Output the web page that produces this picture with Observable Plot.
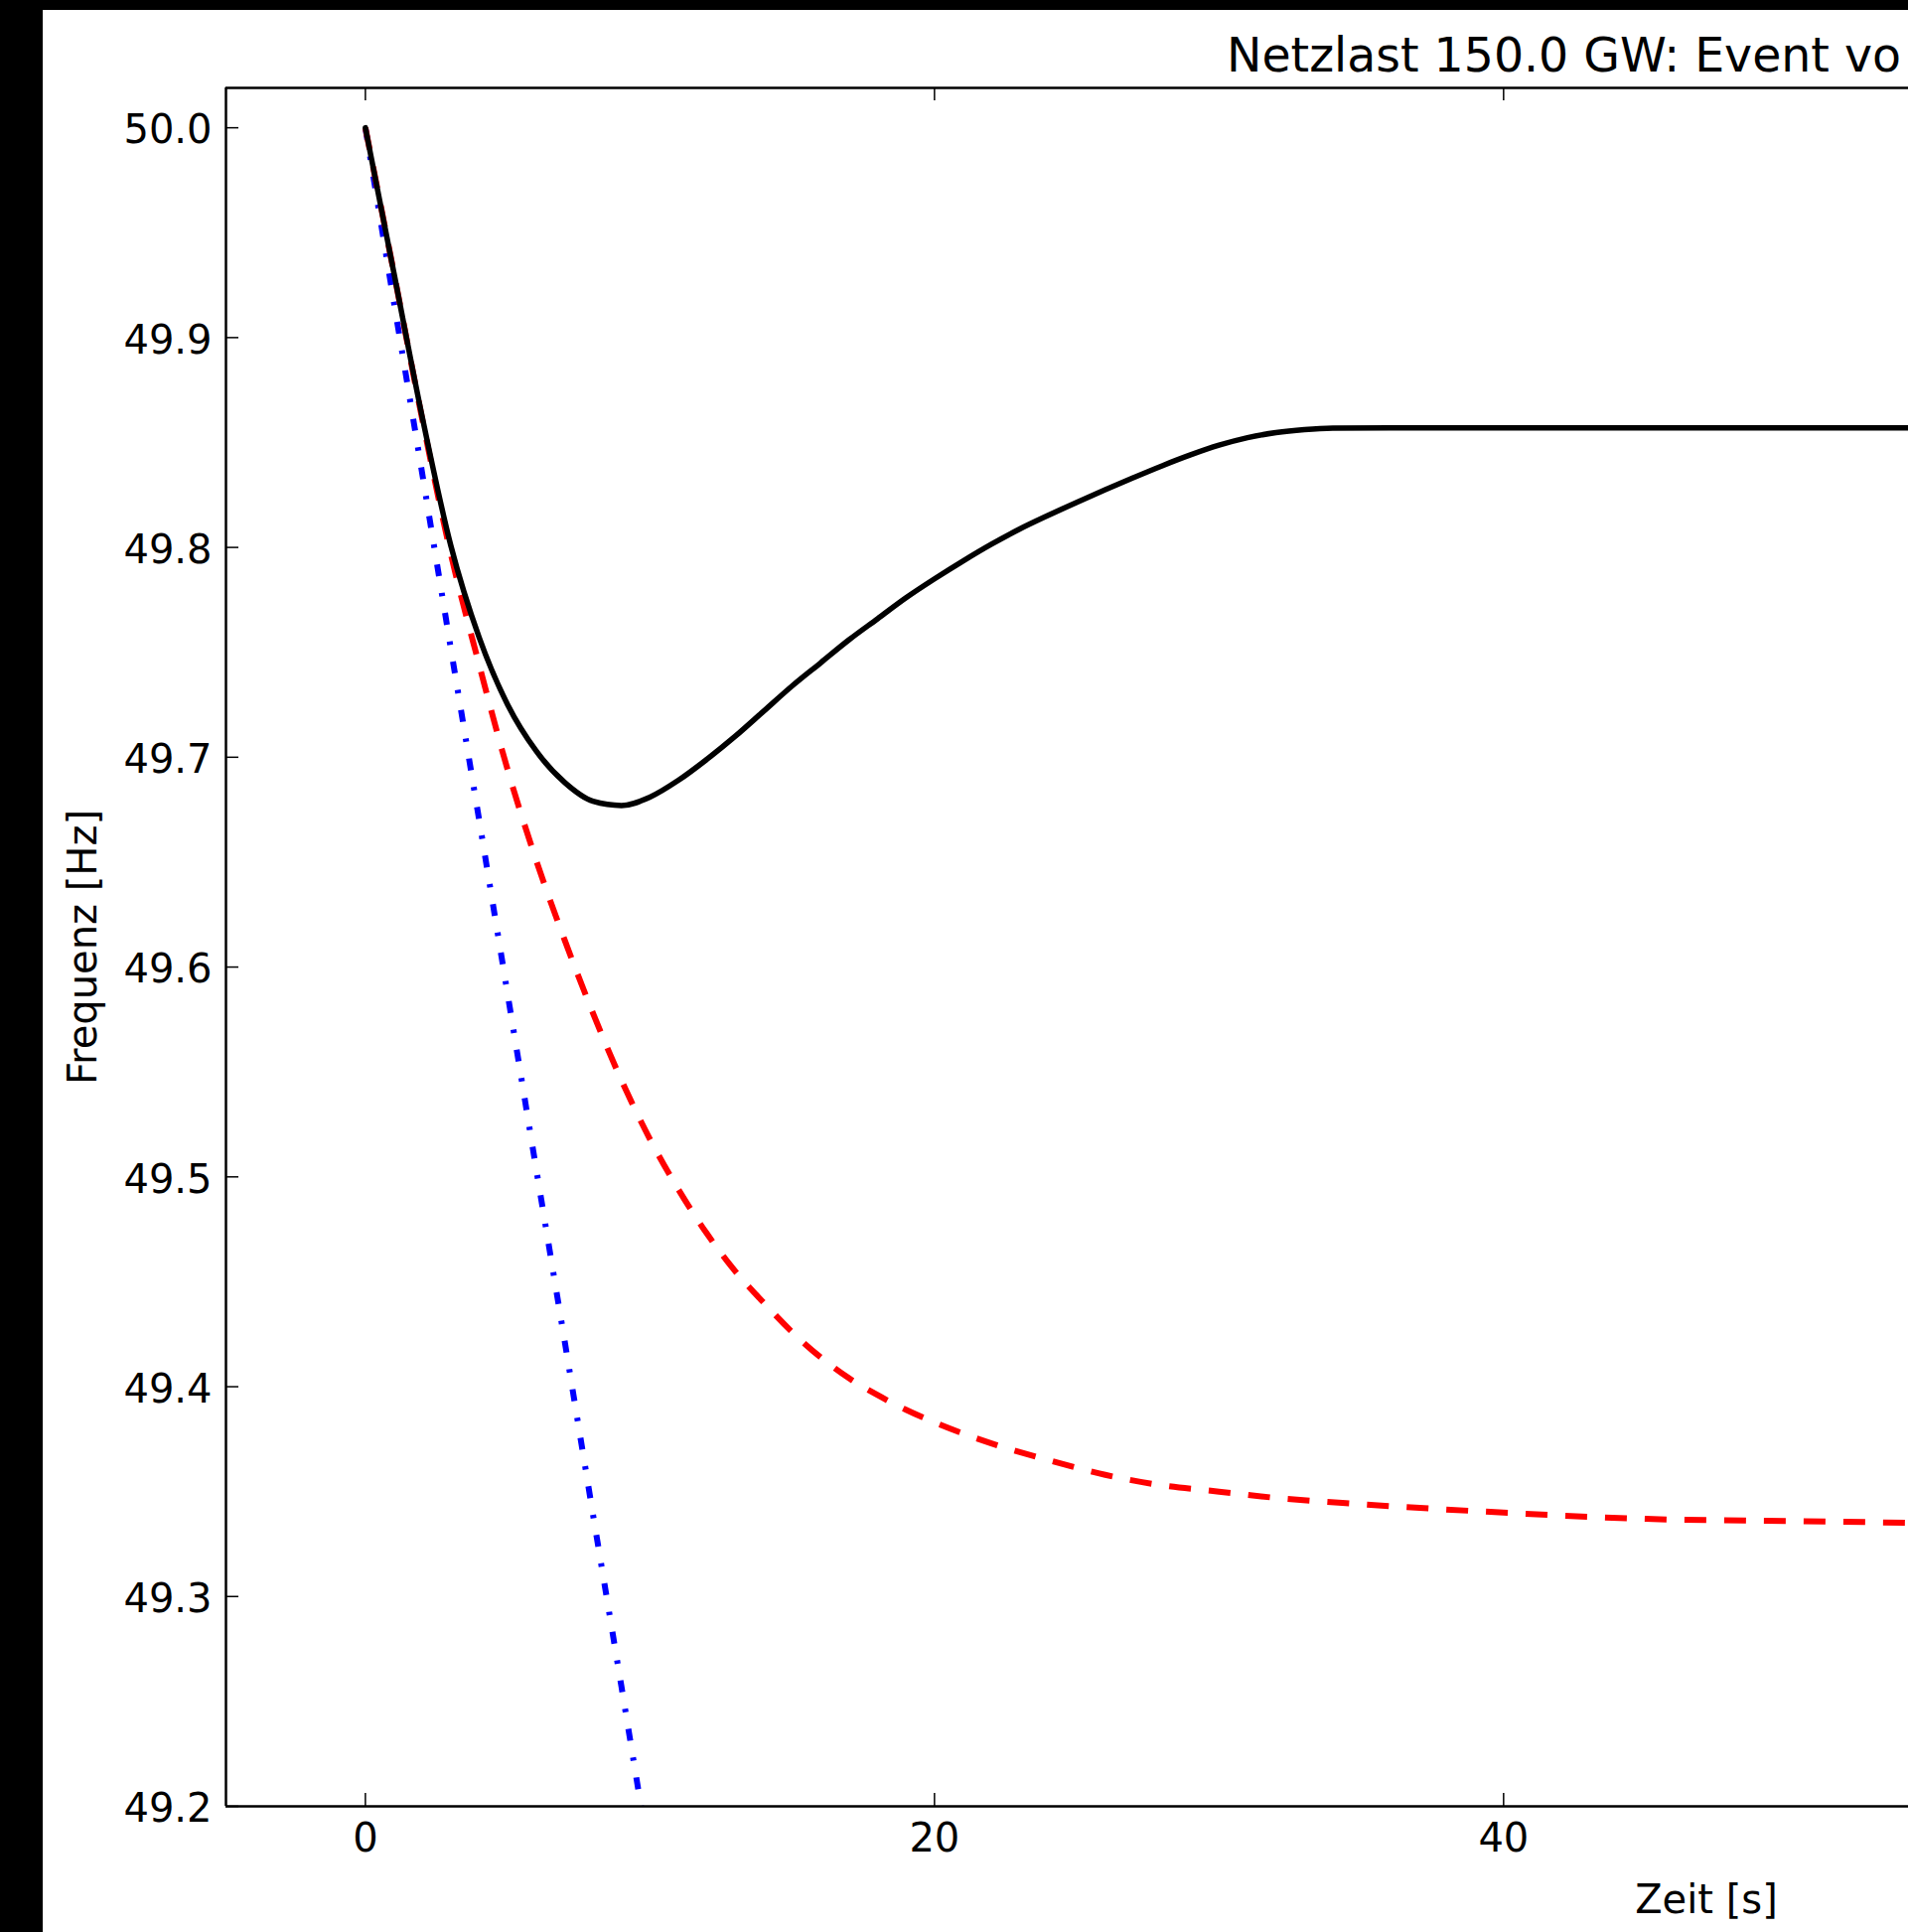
<!DOCTYPE html>
<html>
<head>
<meta charset="utf-8">
<script src="https://cdn.jsdelivr.net/npm/d3@7"></script>
<script src="https://cdn.jsdelivr.net/npm/@observablehq/plot@0.6"></script>
<style>
html, body { margin: 0; padding: 0; background: #000; overflow: hidden; width: 1921px; height: 1945px; }
#page { position: absolute; left: 43px; top: 10px; width: 1878px; height: 1935px; background: #fff; overflow: hidden; font-family: "DejaVu Sans", sans-serif; color: #000; }
#title { position: relative; height: 60px; }
#title span { position: absolute; left: 1192px; top: 22px; font-size: 47.4px; line-height: 48px; white-space: nowrap; }
#chart svg { display: block; }
#xlabel { position: relative; height: 55px; }
#xlabel span { position: absolute; left: 1475px; width: 400px; top: 12px; text-align: center; font-size: 40px; line-height: 40px; white-space: nowrap; }
</style>
</head>
<body>
<div id="page">
  <div id="title"><span id="titleText"></span></div>
  <div id="chart"></div>
  <div id="xlabel"><span id="xlabelText"></span></div>
</div>
<script>
// ---- texts ----
const titleText = "Netzlast 150.0 GW: Event vo";
const xLabel = "Zeit [s]";
const yLabel = "Frequenz [Hz]";

// ---- tick values ----
const xTicks = [0, 20, 40];
const yTicks = [49.2, 49.3, 49.4, 49.5, 49.6, 49.7, 49.8, 49.9, 50.0];

// ---- axis limits ----
const xDomain = [-4.9, 54.23];
const yDomain = [49.2, 50.019];

// ---- series: black solid ----
const timeBlack = [0,1,2,3,4,5,6,7,8,9,10,11,12,13,14,15,16,17,18,19,20,21,22,23,24,25,26,27,28,29,30,31,32,33,34,36,40,45,50,55];
const freqBlack = [50.000,49.931,49.862,49.801,49.757,49.725,49.703,49.688,49.679,49.677,49.681,49.689,49.699,49.710,49.722,49.734,49.745,49.756,49.766,49.776,49.785,49.7935,49.8015,49.8088,49.8153,49.8215,49.8275,49.8333,49.8389,49.8441,49.8487,49.8523,49.8547,49.8561,49.8568,49.857,49.857,49.857,49.857,49.857];

// ---- series: red dashed ----
const timeRed = [0,1,2,3,4,5,6,7,8,9,10,11,12,13,14,15,16,17,18,19,20,22,24,26,28,30,32,35,40,45,50,55];
const freqRed = [50.000,49.931,49.861,49.797,49.744,49.694,49.651,49.613,49.578,49.546,49.518,49.494,49.473,49.455,49.440,49.426,49.414,49.404,49.396,49.389,49.383,49.373,49.365,49.358,49.353,49.350,49.347,49.344,49.340,49.337,49.336,49.335];

// ---- series: blue dash-dot ----
const timeBlue = [0,1,2,3,4,5,6,7,8,9,10];
const freqBlue = [50.000,49.917,49.835,49.752,49.670,49.587,49.504,49.422,49.339,49.257,49.174];

const toRows = (ts, fs) => ts.map((t, i) => ({t, f: fs[i]}));
const blackRows = toRows(timeBlack, freqBlack);
const redRows = toRows(timeRed, freqRed);
const blueRows = toRows(timeBlue, freqBlue);

document.getElementById("titleText").textContent = titleText;
document.getElementById("xlabelText").textContent = xLabel;

const frameW = 1878 - 184;
const frameH = 1810 - 18 - 62;
const tickLen = 13;

const chart = Plot.plot({
  width: 1878,
  height: 1810,
  marginLeft: 184,
  marginRight: 0,
  marginTop: 18,
  marginBottom: 62,
  x: {domain: xDomain},
  y: {domain: yDomain},
  style: {fontFamily: "'DejaVu Sans', sans-serif", fontSize: "40px", color: "#000", background: "#fff"},
  marks: [
    Plot.line(blueRows, {x: "t", y: "f", stroke: "#0000ff", strokeWidth: 6, strokeDasharray: "12,17,3.5,17", strokeLinecap: "butt", clip: true}),
    Plot.line(redRows, {x: "t", y: "f", stroke: "#ff0000", strokeWidth: 6, strokeDasharray: "22,18", strokeLinecap: "butt", curve: "monotone-x", clip: true}),
    Plot.line(blackRows, {x: "t", y: "f", stroke: "#000", strokeWidth: 5.5, curve: "monotone-x", clip: true}),
    // inward ticks
    Plot.tickY(yTicks, {y: d => d, stroke: "#000", strokeWidth: 1.5, insetRight: frameW - tickLen}),
    Plot.tickX(xTicks, {x: d => d, stroke: "#000", strokeWidth: 1.5, insetTop: frameH - tickLen}),
    Plot.tickX(xTicks, {x: d => d, stroke: "#000", strokeWidth: 1.5, insetBottom: frameH - tickLen}),
    // frame edges (left, bottom, top)
    Plot.ruleX([xDomain[0]], {stroke: "#000", strokeWidth: 2.5}),
    Plot.ruleY([yDomain[0]], {stroke: "#000", strokeWidth: 2.5}),
    Plot.ruleY([yDomain[1]], {stroke: "#000", strokeWidth: 2.5}),
    // tick labels
    Plot.axisY(yTicks, {tickSize: 0, tickPadding: 14, tickFormat: d3.format(".1f"), label: null, fontSize: 40, dy: 3}),
    Plot.axisX(xTicks, {tickSize: 0, tickPadding: 17, tickFormat: d3.format("d"), label: null, fontSize: 40}),
    // y axis title
    Plot.text([yLabel], {text: d => d, frameAnchor: "left", textAnchor: "middle", rotate: -90, dx: -143, fontSize: 40, fill: "#000"})
  ]
});
document.getElementById("chart").appendChild(chart);
</script>
</body>
</html>
